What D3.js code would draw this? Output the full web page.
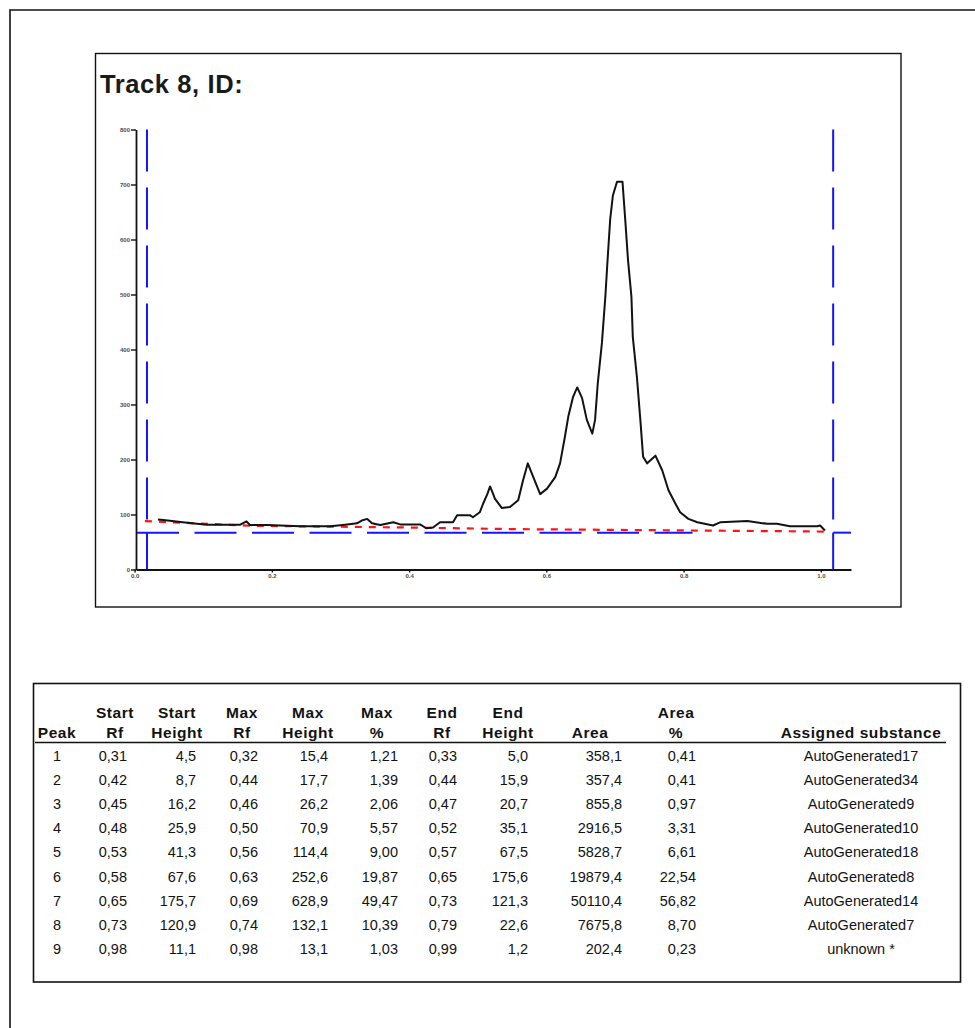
<!DOCTYPE html>
<html>
<head>
<meta charset="utf-8">
<script src="https://cdn.jsdelivr.net/npm/d3@7"></script>
<style>
  body { margin: 0; background: #fff; }
  svg { display: block; font-family: "Liberation Sans", Arial, sans-serif; }
</style>
</head>
<body>
<svg id="page" width="975" height="1028"></svg>
<script>
// ---- Densitogram of track 8 (Rf vs. absorbance units) ----
const scanRf = [0.016, 0.024, 0.052, 0.087, 0.136, 0.145, 0.150, 0.175, 0.223, 0.267, 0.289, 0.306, 0.313,
  0.321, 0.328, 0.340, 0.359, 0.369, 0.398, 0.407, 0.417, 0.427, 0.446, 0.452, 0.471, 0.475, 0.485, 0.490,
  0.496, 0.500, 0.504, 0.507, 0.517, 0.529, 0.541, 0.548, 0.555, 0.563, 0.573, 0.583, 0.595, 0.602, 0.609,
  0.614, 0.621, 0.627, 0.634, 0.641, 0.649, 0.653, 0.657, 0.663, 0.668, 0.671, 0.675, 0.679, 0.685, 0.693,
  0.697, 0.701, 0.706, 0.708, 0.714, 0.719, 0.723, 0.729, 0.741, 0.751, 0.760, 0.770, 0.777, 0.789, 0.802,
  0.825, 0.836, 0.875, 0.904, 0.918, 0.937, 0.977, 0.981, 0.988];
const scanAU = [91, 90, 86, 81.5, 81.5, 87.5, 81, 81, 78.5, 78.5, 81.5, 84, 89,
  92, 84, 81, 86, 82, 82, 75, 76.5, 86, 86, 98.5, 98.5, 95, 104, 120,
  137, 151, 139, 129, 112, 113.5, 126, 162, 193, 168, 137, 147, 168, 193, 241,
  278, 314, 331, 312, 272, 247, 272, 339, 412, 496, 558, 636, 680, 705, 705,
  636, 563, 496, 423, 350, 272, 205, 193, 207, 180, 144, 120, 104, 92, 86,
  80, 86, 88, 83, 83, 78.5, 78.5, 80, 71];

// baseline used for peak integration
const baseRf = [-0.003, 0.15, 0.37, 0.53, 0.988];
const baseAU = [88, 79.5, 76.5, 73.5, 69];

// application position / solvent front and detection threshold
const frontRf = [0, 1];
const thresholdAU = 67;
const thresholdEndRf = 0.795;

// axes
const xExtent = [-0.016, 1.026];
const yExtent = [0, 800];
const yTicks = [0, 100, 200, 300, 400, 500, 600, 700, 800];
const yTickLabels = ["0", "100", "200", "300", "400", "500", "600", "700", "800"];
const xTicks = [-0.018, 0.182, 0.382, 0.582, 0.782, 0.982];
const xTickLabels = ["0.0", "0.2", "0.4", "0.6", "0.8", "1.0"];

// ---- Peak table ----
const headTop = ["", "Start", "Start", "Max", "Max", "Max", "End", "End", "", "Area", ""];
const headBottom = ["Peak", "Rf", "Height", "Rf", "Height", "%", "Rf", "Height", "Area", "%", "Assigned substance"];
const peakNo = [1, 2, 3, 4, 5, 6, 7, 8, 9];
const startRf = [0.31, 0.42, 0.45, 0.48, 0.53, 0.58, 0.65, 0.73, 0.98];
const startHeight = [4.5, 8.7, 16.2, 25.9, 41.3, 67.6, 175.7, 120.9, 11.1];
const maxRf = [0.32, 0.44, 0.46, 0.50, 0.56, 0.63, 0.69, 0.74, 0.98];
const maxHeight = [15.4, 17.7, 26.2, 70.9, 114.4, 252.6, 628.9, 132.1, 13.1];
const maxPct = [1.21, 1.39, 2.06, 5.57, 9.00, 19.87, 49.47, 10.39, 1.03];
const endRf = [0.33, 0.44, 0.47, 0.52, 0.57, 0.65, 0.73, 0.79, 0.99];
const endHeight = [5.0, 15.9, 20.7, 35.1, 67.5, 175.6, 121.3, 22.6, 1.2];
const area = [358.1, 357.4, 855.8, 2916.5, 5828.7, 19879.4, 50110.4, 7675.8, 202.4];
const areaPct = [0.41, 0.41, 0.97, 3.31, 6.61, 22.54, 56.82, 8.70, 0.23];
const substance = ["AutoGenerated17", "AutoGenerated34", "AutoGenerated9", "AutoGenerated10",
  "AutoGenerated18", "AutoGenerated8", "AutoGenerated14", "AutoGenerated7", "unknown *"];

// ---------------------------------------------------------------
const svg = d3.select("#page");
const ink = "#121212";
const blue = "#1414ff";
const red = "#ff1414";

svg.append("rect").attr("width", 975).attr("height", 1028).attr("fill", "#fff");

// page frame
svg.append("path").attr("d", "M10,1028V10H975")
  .attr("fill", "none").attr("stroke", ink).attr("stroke-width", 1.6);

// chart frame and title
svg.append("rect").attr("x", 95.5).attr("y", 53.5).attr("width", 805.5).attr("height", 553.5)
  .attr("fill", "none").attr("stroke", ink).attr("stroke-width", 1.4);
svg.append("text").attr("x", 100).attr("y", 93)
  .attr("font-size", 25.5).attr("font-weight", "bold").attr("letter-spacing", 0.6).attr("fill", "#1a1a1a")
  .text("Track 8, ID:");

const x = d3.scaleLinear().domain(xExtent).range([136, 851]);
const y = d3.scaleLinear().domain(yExtent).range([569.5, 129.5]);

const chart = svg.append("g");

// y axis
const yAxis = chart.append("g").attr("transform", `translate(${x(xExtent[0])},0)`)
  .call(d3.axisLeft(y).tickValues(yTicks).tickSize(5).tickSizeOuter(0)
    .tickFormat((d, i) => yTickLabels[i]));
// x axis
const xAxis = chart.append("g").attr("transform", `translate(0,${y(0)})`)
  .call(d3.axisBottom(x).tickValues(xTicks).tickSize(3).tickSizeOuter(0)
    .tickFormat((d, i) => xTickLabels[i]));
[yAxis, xAxis].forEach(a => {
  a.select(".domain").attr("stroke", ink).attr("stroke-width", 1.8);
  a.selectAll(".tick line").attr("stroke", ink).attr("stroke-width", 1.4);
  a.selectAll(".tick text").attr("font-size", 6).attr("font-weight", "bold")
    .attr("fill", "#5a4a3a").attr("font-family", "Liberation Sans, Arial, sans-serif");
});
yAxis.selectAll(".tick text").attr("x", -6);
xAxis.selectAll(".tick text").attr("y", 4);

// application position and solvent front (vertical), threshold (horizontal)
const yThr = y(thresholdAU);
frontRf.forEach(f => {
  chart.append("line").attr("x1", x(f)).attr("x2", x(f)).attr("y1", y(yExtent[1])).attr("y2", yThr - 10)
    .attr("stroke", blue).attr("stroke-width", 2).attr("stroke-dasharray", "42,16");
  chart.append("line").attr("x1", x(f)).attr("x2", x(f)).attr("y1", yThr).attr("y2", y(0))
    .attr("stroke", blue).attr("stroke-width", 2);
});
chart.append("line").attr("x1", x(xExtent[0]) + 1).attr("x2", x(thresholdEndRf)).attr("y1", yThr).attr("y2", yThr)
  .attr("stroke", blue).attr("stroke-width", 2).attr("stroke-dasharray", "42,15.5");
chart.append("line").attr("x1", x(frontRf[1])).attr("x2", x(xExtent[1])).attr("y1", yThr).attr("y2", yThr)
  .attr("stroke", blue).attr("stroke-width", 2);

// integration baseline
chart.append("path")
  .datum(d3.zip(baseRf, baseAU))
  .attr("d", d3.line().x(d => x(d[0])).y(d => y(d[1])))
  .attr("fill", "none").attr("stroke", red).attr("stroke-width", 2.2).attr("stroke-dasharray", "7,7");

// scan curve
chart.append("path")
  .datum(d3.zip(scanRf, scanAU))
  .attr("d", d3.line().x(d => x(d[0])).y(d => y(d[1])))
  .attr("fill", "none").attr("stroke", ink).attr("stroke-width", 2).attr("stroke-linejoin", "round");

// ---- table ----
const loc = d3.formatLocale({ decimal: ",", thousands: ".", grouping: [3], currency: ["", ""] });
const f1 = loc.format(".1f"), f2 = loc.format(".2f");

svg.append("rect").attr("x", 33.5).attr("y", 683.5).attr("width", 927).attr("height", 298.5)
  .attr("fill", "none").attr("stroke", ink).attr("stroke-width", 1.6);

const cols = [
  { vals: peakNo, fmt: d => d, x: 57, anchor: "middle", hx: 57 },
  { vals: startRf, fmt: f2, x: 127, anchor: "end", hx: 115 },
  { vals: startHeight, fmt: f1, x: 196, anchor: "end", hx: 177 },
  { vals: maxRf, fmt: f2, x: 258, anchor: "end", hx: 242 },
  { vals: maxHeight, fmt: f1, x: 328, anchor: "end", hx: 308 },
  { vals: maxPct, fmt: f2, x: 398, anchor: "end", hx: 377 },
  { vals: endRf, fmt: f2, x: 457, anchor: "end", hx: 442 },
  { vals: endHeight, fmt: f1, x: 528, anchor: "end", hx: 508 },
  { vals: area, fmt: f1, x: 622, anchor: "end", hx: 590 },
  { vals: areaPct, fmt: f2, x: 696, anchor: "end", hx: 676 },
  { vals: substance, fmt: d => d, x: 861, anchor: "middle", hx: 861 }
];

const table = svg.append("g").attr("fill", ink);
cols.forEach((c, i) => {
  [[headTop, 718], [headBottom, 738]].forEach(([row, yy]) => {
    table.append("text").attr("x", c.hx).attr("y", yy).attr("text-anchor", "middle")
      .attr("font-size", 15.5).attr("font-weight", "bold").attr("letter-spacing", 0.55)
      .text(row[i]);
  });
  table.selectAll(null).data(c.vals).join("text")
    .attr("x", c.x).attr("y", (d, r) => 761 + r * 24.1)
    .attr("text-anchor", c.anchor).attr("font-size", 14.5)
    .text(d => c.fmt(d));
});
svg.append("line").attr("x1", 35).attr("x2", 946).attr("y1", 742.5).attr("y2", 742.5)
  .attr("stroke", ink).attr("stroke-width", 1.5);
</script>
</body>
</html>
